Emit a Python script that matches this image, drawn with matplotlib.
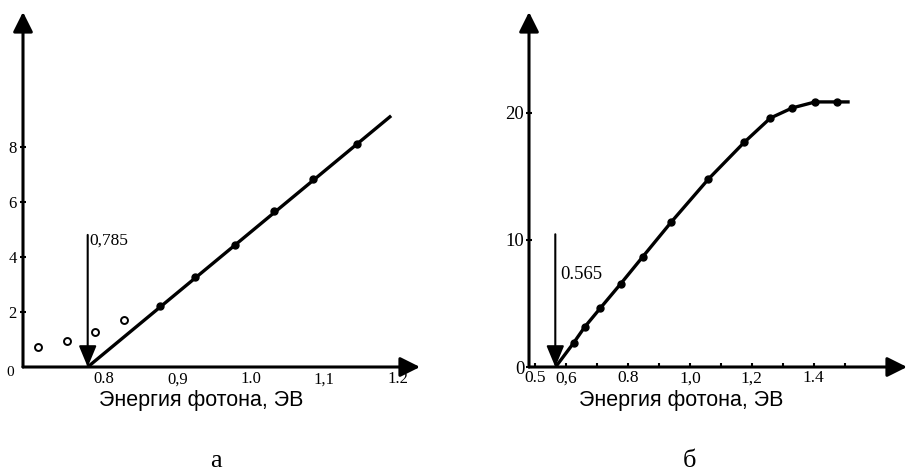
import matplotlib
matplotlib.use('Agg')
import matplotlib.pyplot as plt
from matplotlib.transforms import ScaledTranslation

# --- data, panel "а" ---
open_x = [0.717, 0.757, 0.795, 0.834]
open_y = [0.73, 0.95, 1.27, 1.71]
dots_a_x = [0.883, 0.931, 0.986, 1.039, 1.091, 1.151]
dots_a_y = [2.22, 3.27, 4.44, 5.67, 6.84, 8.11]
line_a_x = [0.785, 1.196]
line_a_y = [0.0, 9.09]
yticks_a = [2, 4, 6, 8]
xticks_a = [0.8, 0.9, 1.0, 1.1, 1.2]
xlabels_a = ['0.8', '0,9', '1.0', '1,1', '1.2']
edge_a = 0.785

# --- data, panel "б" ---
curve_b_x = [0.566, 0.624, 0.660, 0.711, 0.776, 0.847, 0.940, 1.060,
             1.176, 1.260, 1.331, 1.405, 1.476, 1.511]
curve_b_y = [0.0, 1.89, 3.15, 4.65, 6.54, 8.66, 11.42, 14.8,
             17.7, 19.6, 20.4, 20.87, 20.87, 20.87]
dots_b_x = curve_b_x[1:-1]
dots_b_y = curve_b_y[1:-1]
yticks_b = [0, 10, 20]
xticks_b = [0.5, 0.6, 0.7, 0.8, 0.9, 1.0, 1.1, 1.2, 1.3, 1.4, 1.5]
xlabels_b = ['0.5', '0,6', '', '0.8', '', '1,0', '', '1,2', '', '1.4', '']
edge_b = 0.565

xlabel = 'Энергия фотона, ЭВ'
serif = 'Liberation Serif'
sans = 'Liberation Sans'

W, H = 908, 472
fig = plt.figure(figsize=(W / 100, H / 100), dpi=100)
ax1 = fig.add_axes([23 / W, 105 / H, 397 / W, 355 / H])
ax2 = fig.add_axes([529 / W, 105 / H, 378 / W, 355 / H])


def draw_axes(ax):
    for s in ax.spines.values():
        s.set_visible(False)
    style = dict(arrowstyle='-|>,head_length=0.6,head_width=0.3', lw=2.2,
                 color='black', mutation_scale=20, shrinkA=0, shrinkB=0)
    ax.annotate('', xy=(1, 0), xytext=(0, 0), xycoords='axes fraction',
                arrowprops=style)
    ax.annotate('', xy=(0, 1), xytext=(0, 0), xycoords='axes fraction',
                arrowprops=style)


def down_arrow(ax, x, ytop):
    ax.annotate('', xy=(x, 0), xytext=(x, ytop),
                arrowprops=dict(arrowstyle='-|>,head_length=0.65,head_width=0.27',
                                lw=1.5, color='black', mutation_scale=20,
                                shrinkA=0, shrinkB=0))


# panel а
draw_axes(ax1)
ax1.set_xlim(0.697, 1.237)
ax1.set_ylim(0, 12.9)
ax1.plot(line_a_x, line_a_y, color='black', lw=2.4)
ax1.plot(dots_a_x, dots_a_y, 'o', color='black', ms=5)
ax1.plot(open_x, open_y, 'o', mfc='white', mec='black', ms=5, mew=1.4)
down_arrow(ax1, edge_a, 4.8)
ax1.text(edge_a + 0.002, 4.9, '0,785', family=serif, fontsize=12.5,
         ha='left', va='top')
ax1.set_yticks(yticks_a)
ax1.set_yticklabels([str(v) for v in yticks_a], family=serif, fontsize=12)
ax1.tick_params(axis='y', direction='inout', length=5, width=1.5, pad=2)
ax1.set_xticks(xticks_a)
ax1.set_xticklabels(xlabels_a, family=serif, fontsize=12)
ax1.tick_params(axis='x', length=0, pad=3)
for lbl in ax1.get_xticklabels():
    lbl.set_transform(lbl.get_transform() + ScaledTranslation(0.05, 0, fig.dpi_scale_trans))
fig.text(10 / W, 1 - 372 / H, '0', family=serif, fontsize=11, ha='center', va='center')
fig.text(201 / W, 1 - 406 / H, xlabel, family=sans, fontsize=15.5,
         ha='center', va='baseline')

# panel б
draw_axes(ax2)
ax2.set_xlim(0.48, 1.7016)
ax2.set_ylim(0, 27.95)
ax2.plot(curve_b_x, curve_b_y, color='black', lw=2.4)
ax2.plot(dots_b_x, dots_b_y, 'o', color='black', ms=5)
down_arrow(ax2, edge_b, 10.45)
ax2.text(edge_b + 0.017, 7.25, '0.565', family=serif, fontsize=13.5,
         ha='left', va='center')
ax2.set_yticks(yticks_b)
ax2.set_yticklabels([str(v) for v in yticks_b], family=serif, fontsize=13.5)
ax2.tick_params(axis='y', direction='inout', length=5, width=1.5, pad=1)
ax2.set_xticks(xticks_b)
ax2.set_xticklabels(xlabels_b, family=serif, fontsize=12.5)
ax2.tick_params(axis='x', direction='in', length=3, width=1.5, pad=2.5)
fig.text(681 / W, 1 - 406 / H, xlabel, family=sans, fontsize=15.5,
         ha='center', va='baseline')

# captions
fig.text(216 / W, 1 - 467 / H, 'а', family=serif, fontsize=19,
         ha='center', va='baseline')
fig.text(689 / W, 1 - 467 / H, 'б', family=serif, fontsize=19,
         ha='center', va='baseline')

fig.savefig('out.png', dpi=100)
